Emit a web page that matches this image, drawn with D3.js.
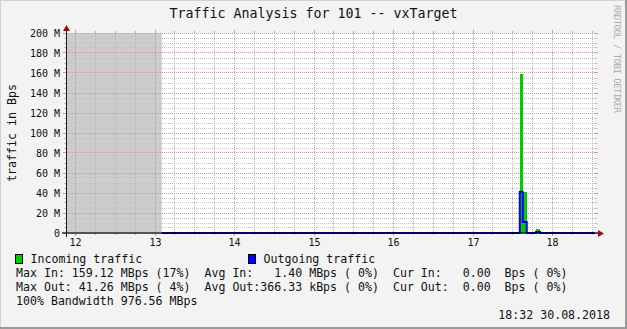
<!DOCTYPE html>
<html>
<head>
<meta charset="utf-8">
<script src="https://cdn.jsdelivr.net/npm/d3@7"></script>
<style>
  body { margin: 0; background: #f3f3f3; }
  svg { display: block; font-family: "DejaVu Sans Mono", monospace; }
  text { white-space: pre; fill: #111; }
</style>
</head>
<body>
<svg width="627" height="329"></svg>
<script>
const title = "Traffic Analysis for 101 -- vxTarget";
const yLabel = "traffic in Bps";
const credit = "RRDTOOL / TOBI OETIKER";
const stamp = "18:32 30.08.2018";

const day = "2018-08-30";
const timeWindow = ["11:52:45", "18:32:00"];
const unknownSpan = ["11:52:45", "13:05:00"];

// step samples, MBps
const sampleTimes = ["13:05:00", "17:35:15", "17:37:30", "17:40:30", "17:47:30", "17:50:30", "18:32:00"];
const incoming    = [0, 159.12, 41.3, 0, 4, 0, 0];
const outgoing    = [0, 41.26, 11, 0, 1, 0, 0];
const yMax = 200;

const seriesNames  = ["Incoming traffic", "Outgoing traffic"];
const seriesColors = ["#00cc00", "#0000ff"];
const statRows = [
  "Max In: 159.12 MBps (17%)  Avg In:   1.40 MBps ( 0%)  Cur In:   0.00  Bps ( 0%)",
  "Max Out: 41.26 MBps ( 4%)  Avg Out:366.33 kBps ( 0%)  Cur Out:  0.00  Bps ( 0%)",
  "100% Bandwidth 976.56 MBps"
];

const parseTime = d3.timeParse("%Y-%m-%d %H:%M:%S");
const at = (t) => parseTime(`${day} ${t}`);

const svg = d3.select("svg");
const W = +svg.attr("width");
const H = +svg.attr("height");
const plot = { left: 66, right: 595, top: 33, bottom: 233 };

const x = d3.scaleTime()
  .domain(timeWindow.map(at))
  .range([plot.left, plot.right]);

const y = d3.scaleLinear()
  .domain([0, yMax])
  .range([plot.bottom, plot.top]);

const px = (v) => Math.floor(v) + 0.5;

// frame
svg.append("rect").attr("width", W).attr("height", H).attr("fill", "#f3f3f3");
svg.append("path").attr("d", `M0,${H} V0 H${W}`).attr("fill", "none")
  .attr("stroke", "#d2d2d2").attr("stroke-width", 2);
svg.append("path").attr("d", `M0,${H - 1} H${W - 1} V0`).attr("fill", "none")
  .attr("stroke", "#9a9a9a").attr("stroke-width", 2);

svg.append("rect")
  .attr("x", plot.left).attr("y", plot.top)
  .attr("width", plot.right - plot.left).attr("height", plot.bottom - plot.top)
  .attr("fill", "#fff");

// unknown data
svg.append("rect")
  .attr("x", plot.left + 1)
  .attr("y", y(yMax))
  .attr("width", x(at(unknownSpan[1])) - plot.left - 1)
  .attr("height", y(0) - y(yMax))
  .attr("fill", "#cccccc");

// grid (dotted, 1 on 1 off)
const grid = svg.append("g");
const minorColor = "#c2c2c2";
const minorColorV = "#b2b2b2";
const majorColor = "#d39898";

const hours = x.ticks(d3.timeHour.every(1));
const quarters = x.ticks(d3.timeMinute.every(15)).filter(d => d.getMinutes() !== 0);
const yMajor = y.ticks(10);
const yMinor = y.ticks(40).filter(d => d % 20 !== 0);

const hLine = (g, vals, color, ext) => {
  vals.forEach(v => {
    const yy = px(y(v));
    g.append("path")
      .attr("d", `M${plot.left},${yy}H${plot.right}`)
      .attr("stroke", color).attr("stroke-dasharray", "1 1");
    g.append("path")
      .attr("d", `M${plot.left - ext},${yy}H${plot.left}M${plot.right},${yy}H${plot.right + ext}`)
      .attr("stroke", color);
  });
};
const vLine = (g, vals, color, ext) => {
  vals.forEach(v => {
    const xx = px(x(v));
    g.append("path")
      .attr("d", `M${xx},${plot.top}V${plot.bottom}`)
      .attr("stroke", color).attr("stroke-dasharray", "1 1");
    g.append("path")
      .attr("d", `M${xx},${plot.top - ext}V${plot.top}M${xx},${plot.bottom}V${plot.bottom + ext}`)
      .attr("stroke", color);
  });
};

hLine(grid, yMinor, minorColor, 2);
vLine(grid, quarters, minorColorV, 2);
hLine(grid, yMajor, majorColor, 3);
vLine(grid, hours, majorColor, 3);

// series
const samples = sampleTimes.map((t, i) => ({ t: at(t), inc: incoming[i], out: outgoing[i] }));

const area = d3.area()
  .x(d => x(d.t))
  .y0(y(0))
  .y1(d => y(d.inc))
  .curve(d3.curveStepAfter);

svg.append("path")
  .datum(samples)
  .attr("d", area)
  .attr("fill", seriesColors[0])
  .attr("shape-rendering", "crispEdges");

const line = d3.line()
  .x(d => x(d.t))
  .y(d => y(d.out))
  .curve(d3.curveStepAfter);

svg.append("path")
  .datum(samples)
  .attr("d", line)
  .attr("fill", "none")
  .attr("stroke", seriesColors[1])
  .attr("stroke-width", 2);

// axes
svg.append("path")
  .attr("d", `M${plot.left - 4},${y(0)}H${plot.right + 4}`)
  .attr("stroke", "rgba(0,0,0,0.6)")
  .attr("stroke-width", 2);
svg.append("path")
  .attr("d", `M${px(plot.left)},${plot.bottom + 4}V${plot.top - 4}`)
  .attr("stroke", "#1a1a1a");

const arrowColor = "#8e1414";
svg.append("path")
  .attr("d", `M${plot.left - 3},${plot.top - 2} L${plot.left + 4},${plot.top - 2} L${plot.left + 0.5},${plot.top - 8} Z`)
  .attr("fill", arrowColor);
svg.append("path")
  .attr("d", `M${plot.right + 3},${plot.bottom - 3} L${plot.right + 3},${plot.bottom + 4} L${plot.right + 9},${plot.bottom + 0.5} Z`)
  .attr("fill", arrowColor);

// tick labels
svg.append("g")
  .selectAll("text")
  .data(yMajor)
  .join("text")
    .attr("x", plot.left - 6)
    .attr("y", d => y(d) + 4)
    .attr("text-anchor", "end")
    .attr("font-size", "10px")
    .text(d => d === 0 ? "0" : `${d} M`);

svg.append("g")
  .selectAll("text")
  .data(hours)
  .join("text")
    .attr("x", d => px(x(d)))
    .attr("y", plot.bottom + 13)
    .attr("text-anchor", "middle")
    .attr("font-size", "10px")
    .text(d3.timeFormat("%H"));

// titles
svg.append("text")
  .attr("x", W / 2)
  .attr("y", 18)
  .attr("text-anchor", "middle")
  .attr("font-size", "13.3px")
  .text(title);

svg.append("text")
  .attr("transform", `translate(15.5, ${(plot.top + plot.bottom) / 2}) rotate(-90)`)
  .attr("text-anchor", "middle")
  .attr("font-size", "11.6px")
  .text(yLabel);

svg.append("text")
  .attr("transform", `translate(614, 5) rotate(90)`)
  .attr("font-size", "9px")
  .attr("textLength", 108)
  .style("fill", "#acacac")
  .text(credit);

// legend
const legend = svg.append("g").attr("font-size", "11.6px");
[15, 248].forEach((lx, i) => {
  legend.append("rect")
    .attr("x", lx + 0.5).attr("y", 254.5)
    .attr("width", 7).attr("height", 9)
    .attr("fill", seriesColors[i])
    .attr("stroke", "#000");
  legend.append("text")
    .attr("x", lx + 15.5).attr("y", 263)
    .text(seriesNames[i]);
});

legend.selectAll(".stat")
  .data(statRows)
  .join("text")
    .attr("class", "stat")
    .attr("x", 16)
    .attr("y", (_, i) => 277 + i * 14)
    .text(d => d);

legend.append("text")
  .attr("x", 610)
  .attr("y", 319)
  .attr("text-anchor", "end")
  .text(stamp);
</script>
</body>
</html>
